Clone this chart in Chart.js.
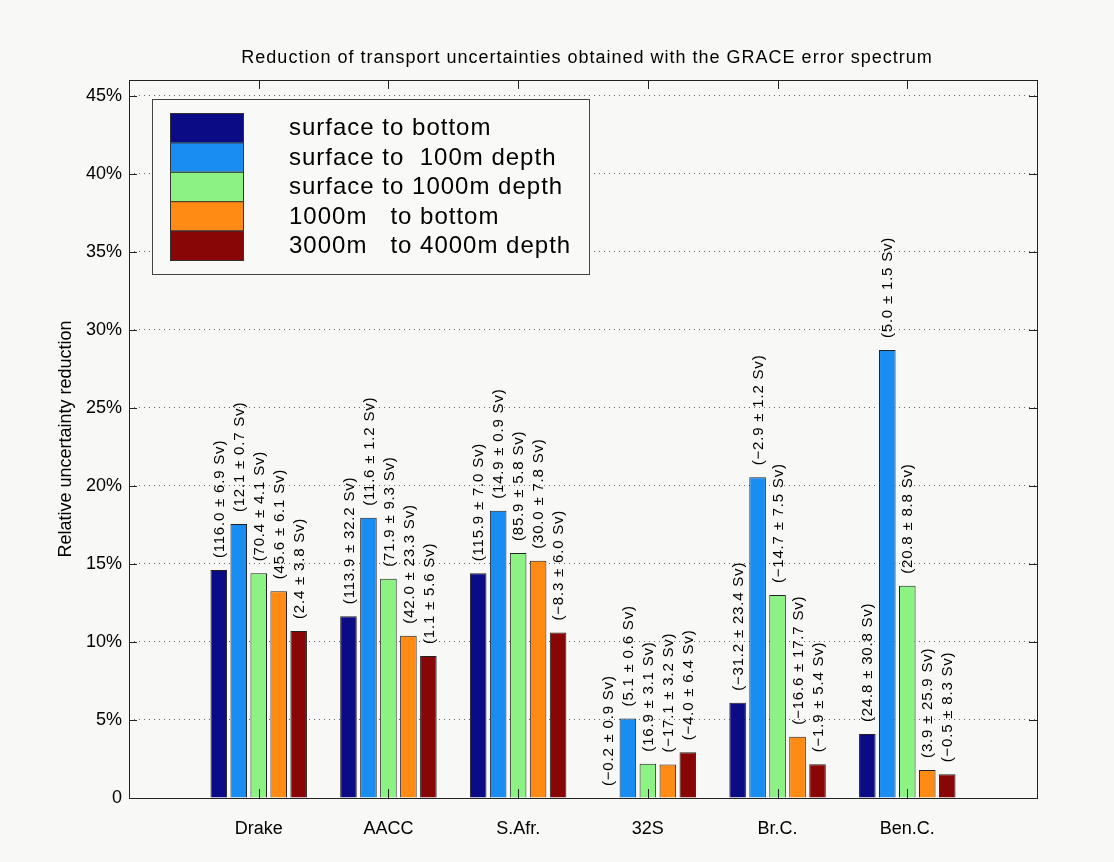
<!DOCTYPE html>
<html>
<head>
<meta charset="utf-8">
<script src="https://cdn.jsdelivr.net/npm/chart.js@4.4.1/dist/chart.umd.min.js"></script>
<style>
  html, body { margin: 0; background: #f8f8f6; }
  #wrap { width: 1114px; height: 862px; }
</style>
</head>
<body>
<div id="wrap"><canvas id="chart" width="1114" height="862"></canvas></div>
<script>
const $ = s => document.querySelector(s);
const FONT = "'Liberation Sans', Arial, Helvetica, sans-serif";

// sections along the x axis
const sites = ["Drake", "AACC", "S.Afr.", "32S", "Br.C.", "Ben.C."];
const seriesNames = ["surface to bottom", "surface to  100m depth", "surface to 1000m depth",
                     "1000m   to bottom", "3000m   to 4000m depth"];
const seriesColors = ["#0b0b86", "#1a8df2", "#8cf283", "#ff8a14", "#880606"];

// relative uncertainty reduction (%) per section
const surfToBottom   = [14.6, 11.65, 14.4, 0, 6.1, 4.1];
const surfTo100      = [17.55, 17.95, 18.4, 5.1, 20.55, 28.7];
const surfTo1000     = [14.4, 14.05, 15.7, 2.2, 13.0, 13.6];
const d1000ToBottom  = [13.25, 10.4, 15.2, 2.15, 3.93, 1.8];
const d3000To4000    = [10.7, 9.1, 10.6, 2.93, 2.16, 1.52];

// transport estimates printed above each bar
const txtSurfToBottom  = ["(116.0 ± 6.9 Sv)", "(113.9 ± 32.2 Sv)", "(115.9 ± 7.0 Sv)", "(−0.2 ± 0.9 Sv)", "(−31.2 ± 23.4 Sv)", "(24.8 ± 30.8 Sv)"];
const txtSurfTo100     = ["(12.1 ± 0.7 Sv)", "(11.6 ± 1.2 Sv)", "(14.9 ± 0.9 Sv)", "(5.1 ± 0.6 Sv)", "(−2.9 ± 1.2 Sv)", "(5.0 ± 1.5 Sv)"];
const txtSurfTo1000    = ["(70.4 ± 4.1 Sv)", "(71.9 ± 9.3 Sv)", "(85.9 ± 5.8 Sv)", "(16.9 ± 3.1 Sv)", "(−14.7 ± 7.5 Sv)", "(20.8 ± 8.8 Sv)"];
const txtD1000ToBottom = ["(45.6 ± 6.1 Sv)", "(42.0 ± 23.3 Sv)", "(30.0 ± 7.8 Sv)", "(−17.1 ± 3.2 Sv)", "(−16.6 ± 17.7 Sv)", "(3.9 ± 25.9 Sv)"];
const txtD3000To4000   = ["(2.4 ± 3.8 Sv)", "(1.1 ± 5.6 Sv)", "(−8.3 ± 6.0 Sv)", "(−4.0 ± 6.4 Sv)", "(−1.9 ± 5.4 Sv)", "(−0.5 ± 8.3 Sv)"];

const yTicks = [0, 5, 10, 15, 20, 25, 30, 35, 40, 45];
const title = "Reduction of transport uncertainties obtained with the GRACE error spectrum";

const values = [surfToBottom, surfTo100, surfTo1000, d1000ToBottom, d3000To4000];
const notes = [txtSurfToBottom, txtSurfTo100, txtSurfTo1000, txtD1000ToBottom, txtD3000To4000];

// empty slot at each end so the sections sit at 1..6 on a 0..7 axis
const pad = arr => [null, ...arr, null];

const datasets = values.map((v, i) => ({
  label: seriesNames[i],
  data: pad(v),
  backgroundColor: seriesColors[i],
  borderColor: "#222",
  borderWidth: 1,
  categoryPercentage: 0.77,
  barPercentage: 0.83
}));

// rotated labels above bars
const barNotes = {
  id: "barNotes",
  afterDatasetsDraw(chart) {
    const ctx = chart.ctx;
    ctx.save();
    ctx.font = `15px ${FONT}`;
    ctx.letterSpacing = "0.8px";
    ctx.fillStyle = "#000";
    ctx.textAlign = "left";
    ctx.textBaseline = "middle";
    chart.data.datasets.forEach((ds, di) => {
      chart.getDatasetMeta(di).data.forEach((el, i) => {
        const t = notes[di][i - 1];
        if (!t || ds.data[i] == null) return;
        ctx.save();
        ctx.translate(el.x + 1, el.y - 12);
        ctx.rotate(-Math.PI / 2);
        ctx.fillText(t, 0, 0);
        ctx.restore();
      });
    });
    ctx.restore();
  }
};

// axes box with inward ticks, title and legend
const frame = {
  id: "frame",
  afterDraw(chart) {
    const ctx = chart.ctx, a = chart.chartArea;
    const xs = chart.scales.x, ys = chart.scales.y;
    ctx.save();
    ctx.strokeStyle = "#222";
    ctx.lineWidth = 1;
    ctx.strokeRect(a.left + 0.5, a.top + 0.5, a.right - a.left, a.bottom - a.top);
    ctx.beginPath();
    yTicks.forEach(v => {
      const y = Math.round(ys.getPixelForValue(v)) + 0.5;
      ctx.moveTo(a.left, y); ctx.lineTo(a.left + 8, y);
      ctx.moveTo(a.right, y); ctx.lineTo(a.right - 8, y);
    });
    sites.forEach((s, i) => {
      const x = Math.round(xs.getPixelForValue(i + 1)) + 0.5;
      ctx.moveTo(x, a.top); ctx.lineTo(x, a.top + 9);
      ctx.moveTo(x, a.bottom); ctx.lineTo(x, a.bottom - 9);
    });
    ctx.stroke();

    // title
    ctx.fillStyle = "#000";
    ctx.font = `18px ${FONT}`;
    ctx.letterSpacing = "1px";
    ctx.textAlign = "center";
    ctx.textBaseline = "middle";
    ctx.fillText(title, (a.left + a.right) / 2 + 4, 58);

    // legend
    const lx = a.left + 23, ly = a.top + 19, lw = 437, lh = 175;
    ctx.fillStyle = "#f9f9f7";
    ctx.fillRect(lx, ly, lw, lh);
    ctx.strokeStyle = "#444";
    ctx.strokeRect(lx + 0.5, ly + 0.5, lw, lh);
    const rowH = 29.4, sx = lx + 18, sy = ly + 14;
    ctx.font = `24px ${FONT}`;
    ctx.textAlign = "left";
    chart.data.datasets.forEach((ds, i) => {
      ctx.fillStyle = ds.backgroundColor;
      ctx.fillRect(sx, sy + i * rowH, 73, rowH);
      ctx.strokeStyle = "#333";
      ctx.strokeRect(sx + 0.5, sy + i * rowH + 0.5, 73, rowH);
      ctx.fillStyle = "#000";
      ctx.fillText(ds.label, lx + 137, sy + i * rowH + rowH / 2 + 1);
    });
    ctx.restore();
  }
};

new Chart($("#chart"), {
  type: "bar",
  data: { labels: pad(sites).map(s => s ?? ""), datasets },
  options: {
    responsive: false,
    animation: false,
    devicePixelRatio: 1,
    layout: { padding: { top: 80, right: 77, left: 0, bottom: 0 } },
    plugins: { legend: { display: false }, tooltip: { enabled: false } },
    scales: {
      x: {
        offset: false,
        grid: { display: false },
        border: { display: false },
        ticks: { color: "#000", font: { family: FONT, size: 18 }, padding: 12, autoSkip: false, maxRotation: 0 },
        afterFit: s => { s.height = 64; }
      },
      y: {
        min: 0, max: 46,
        grid: { color: "#666", lineWidth: 1, drawTicks: false },
        border: { display: false, dash: [1, 4] },
        ticks: {
          padding: 7, color: "#000", font: { family: FONT, size: 18 },
          callback: v => v === 0 ? "0" : v + "%"
        },
        afterBuildTicks: s => { s.ticks = yTicks.map(v => ({ value: v })); },
        title: {
          display: true, text: "Relative uncertainty reduction", color: "#000",
          font: { family: FONT, size: 18 }, padding: { top: 55, bottom: 0 }
        },
        afterFit: s => { s.width = 129; }
      }
    }
  },
  plugins: [barNotes, frame]
});
</script>
</body>
</html>
